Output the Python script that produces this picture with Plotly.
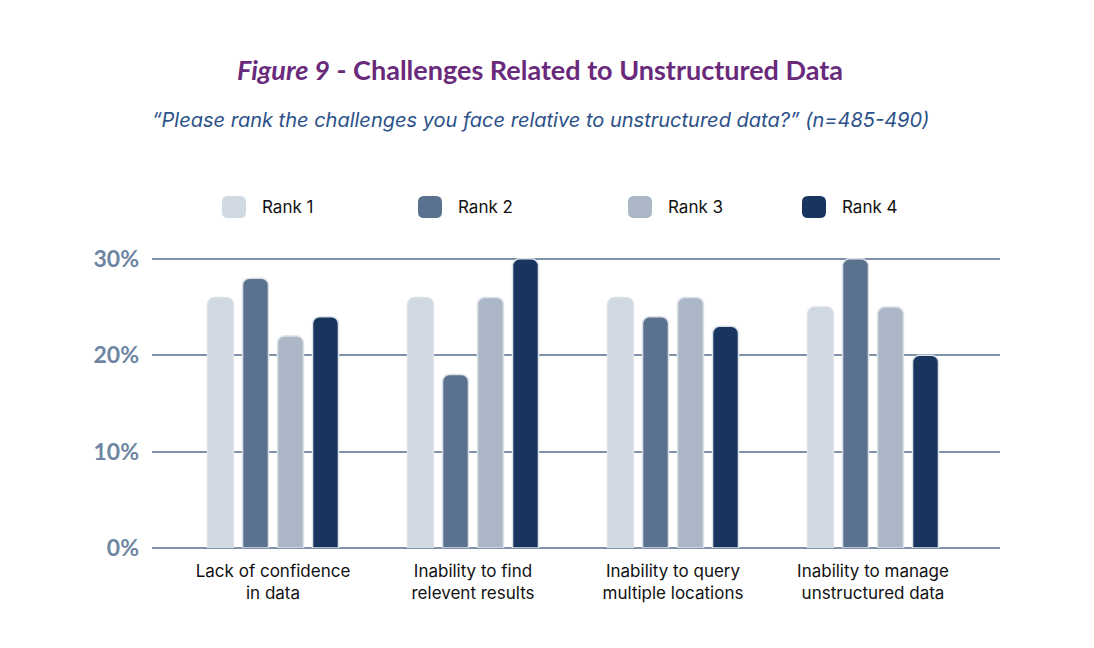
import plotly.graph_objects as go

categories = ["Lack of confidence<br>in data", "Inability to find<br>relevent results",
              "Inability to query<br>multiple locations", "Inability to manage<br>unstructured data"]
series_names = ["Rank 1", "Rank 2", "Rank 3", "Rank 4"]
rank1 = [26, 26, 26, 25]
rank2 = [28, 18, 24, 30]
rank3 = [22, 26, 26, 25]
rank4 = [24, 30, 23, 20]
series_values = [rank1, rank2, rank3, rank4]
colors = ["#d0d8e1", "#5a718f", "#abb7c7", "#17355f"]
y_ticks = [0, 10, 20, 30]
y_tick_labels = ["0%", "10%", "20%", "30%"]

W, H = 1094, 648
OFF = 8  # page body margin
Y_MAX = 30.4
ph = round(289 * Y_MAX / 30)
L0, T0 = 152, 548 - ph   # desired on-screen plot-area left/top
pw = 848
L, T = L0 - OFF, T0 - OFF
R = W - L - pw
B = H - T - ph

def px_to_paper_x(px):
    return (px - OFF - L) / pw

def px_to_paper_y(py):
    return (T + ph - (py - OFF)) / ph

fig = go.Figure()
xs = list(range(len(categories)))
for name, vals, col in zip(series_names, series_values, colors):
    fig.add_trace(go.Bar(
        x=xs, y=vals, name=name,
        marker=dict(color=col, cornerradius=7, line=dict(color="#dce1e8", width=1.5)),
        showlegend=False, cliponaxis=False,
    ))

fig.update_layout(
    width=W, height=H,
    margin=dict(l=L, r=R, t=T, b=B),
    paper_bgcolor="white", plot_bgcolor="white",
    barmode="group", bargap=0.3, bargroupgap=0.26,
    xaxis=dict(range=[-0.605, 3.635], tickvals=xs, ticktext=categories,
               showgrid=False, zeroline=False, showline=False, ticks="",
               ticklabelstandoff=11,
               tickfont=dict(family="Inter", size=17, color="#111111")),
    yaxis=dict(range=[0, Y_MAX], tickvals=y_ticks, ticktext=y_tick_labels,
               showgrid=True, gridcolor="#7f92aa", gridwidth=1.5,
               zeroline=True, zerolinecolor="#7f92aa", zerolinewidth=1.5,
               showline=False, ticks="", ticklabelstandoff=12,
               tickfont=dict(family="Lato", size=23, color="#6e86a3", weight="bold")),
    font=dict(family="Inter"),
)

cx = px_to_paper_x(540)
fig.add_annotation(x=cx, y=px_to_paper_y(70), xref="paper", yref="paper",
                   text="<i>Figure 9</i> - Challenges Related to Unstructured Data",
                   showarrow=False, xanchor="center", yanchor="middle",
                   font=dict(family="Lato", size=27, color="#6a2a7c", weight="bold"))
fig.add_annotation(x=cx, y=px_to_paper_y(120), xref="paper", yref="paper",
                   text="<i>“Please rank the challenges you face relative to unstructured data?” (n=485-490)</i>",
                   showarrow=False, xanchor="center", yanchor="middle",
                   font=dict(family="Inter", size=20, color="#2b5189"))

legend_x_px = [222, 418, 628, 802]
ly = 207
for name, col, lx in zip(series_names, colors, legend_x_px):
    x0, x1 = lx, lx + 24
    y0, y1 = ly - 11, ly + 11
    r = 6
    path = (f"M {x0+r},{y0} L {x1-r},{y0} Q {x1},{y0} {x1},{y0+r} L {x1},{y1-r} "
            f"Q {x1},{y1} {x1-r},{y1} L {x0+r},{y1} Q {x0},{y1} {x0},{y1-r} "
            f"L {x0},{y0+r} Q {x0},{y0} {x0+r},{y0} Z")

    def conv(tok_pair):
        a, b = tok_pair.split(",")
        return f"{px_to_paper_x(float(a)):.5f},{px_to_paper_y(float(b)):.5f}"
    toks = path.split(" ")
    conv_toks = [conv(t) if "," in t else t for t in toks]
    fig.add_shape(type="path", path=" ".join(conv_toks), xref="paper", yref="paper",
                  fillcolor=col, line=dict(width=0))
    fig.add_annotation(x=px_to_paper_x(lx + 38), y=px_to_paper_y(ly), xref="paper", yref="paper",
                       text=name, showarrow=False, xanchor="left", yanchor="middle",
                       font=dict(family="Inter", size=17, color="#111111"))

fig.write_html("out.html")
